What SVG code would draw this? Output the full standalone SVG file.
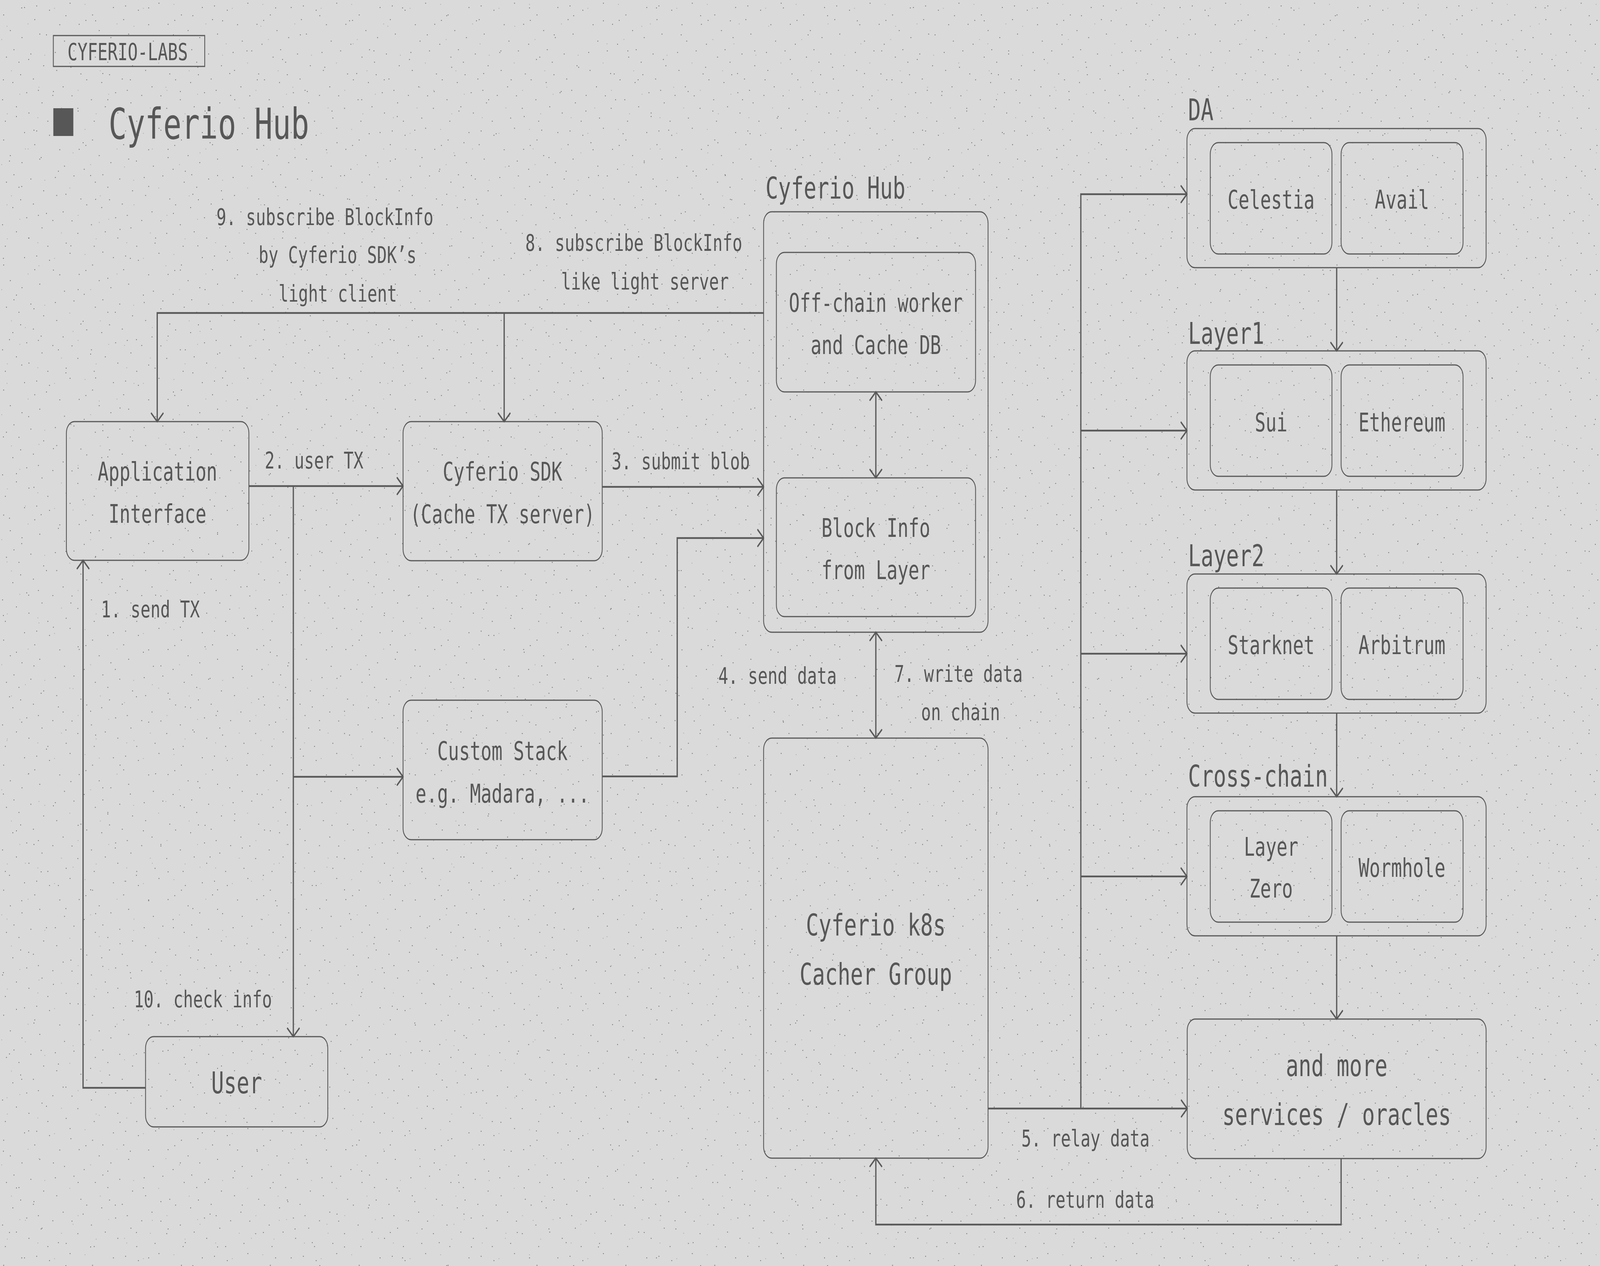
<svg xmlns="http://www.w3.org/2000/svg" width="5760" height="3240" viewBox="0 0 5760 3240" preserveAspectRatio="none" style="width:100%;height:100%;background:#dadada">
<defs>
<style>
.box{fill:none;stroke:#595959;stroke-width:3}
.con{fill:none;stroke:#595959;stroke-width:4.5}
.t{font-family:"DejaVu Sans Mono","Liberation Mono",monospace;fill:#575757}
.node{font-size:65px;text-anchor:middle}
.big{font-size:76px;text-anchor:middle}
.grp{font-size:76px}
.lbl{font-size:59px}
.d{fill:#5e5e5e}
.l{fill:#ababab}
</style>
<marker id="arr" viewBox="-26 -26 32 52" refX="0" refY="0" markerWidth="32" markerHeight="52" markerUnits="userSpaceOnUse" orient="auto-start-reverse">
<path d="M-21,-21 L0,0 L-21,21" fill="none" stroke="#595959" stroke-width="4.5" stroke-linecap="round" stroke-linejoin="round"/>
</marker>
<pattern id="noise" x="0" y="0" width="320" height="320" patternUnits="userSpaceOnUse">
<g class="d">
<rect x="12" y="37" width="2.4" height="2.4"/><rect x="45" y="210" width="2.4" height="2.4"/><rect x="78" y="95" width="2.4" height="2.4"/><rect x="103" y="288" width="2.4" height="2.4"/><rect x="131" y="14" width="2.4" height="2.4"/><rect x="156" y="167" width="2.4" height="2.4"/><rect x="189" y="243" width="2.4" height="2.4"/><rect x="214" y="62" width="2.4" height="2.4"/><rect x="237" y="301" width="2.4" height="2.4"/><rect x="265" y="129" width="2.4" height="2.4"/><rect x="290" y="188" width="2.4" height="2.4"/><rect x="308" y="51" width="2.4" height="2.4"/><rect x="22" y="145" width="2.4" height="2.4"/><rect x="58" y="272" width="2.4" height="2.4"/><rect x="87" y="18" width="2.4" height="2.4"/><rect x="119" y="201" width="2.4" height="2.4"/><rect x="142" y="86" width="2.4" height="2.4"/><rect x="171" y="309" width="2.4" height="2.4"/><rect x="198" y="133" width="2.4" height="2.4"/><rect x="226" y="221" width="2.4" height="2.4"/><rect x="251" y="7" width="2.4" height="2.4"/><rect x="279" y="276" width="2.4" height="2.4"/><rect x="302" y="112" width="2.4" height="2.4"/><rect x="8" y="254" width="2.4" height="2.4"/><rect x="36" y="77" width="2.4" height="2.4"/><rect x="67" y="158" width="2.4" height="2.4"/><rect x="95" y="236" width="2.4" height="2.4"/><rect x="124" y="49" width="2.4" height="2.4"/><rect x="150" y="262" width="2.4" height="2.4"/><rect x="177" y="25" width="2.4" height="2.4"/><rect x="203" y="179" width="2.4" height="2.4"/><rect x="231" y="104" width="2.4" height="2.4"/><rect x="258" y="244" width="2.4" height="2.4"/><rect x="284" y="61" width="2.4" height="2.4"/><rect x="311" y="203" width="2.4" height="2.4"/><rect x="18" y="309" width="2.4" height="2.4"/><rect x="49" y="126" width="2.4" height="2.4"/><rect x="73" y="190" width="2.4" height="2.4"/><rect x="110" y="137" width="2.4" height="2.4"/><rect x="137" y="230" width="2.4" height="2.4"/>
</g>
<g class="l">
<rect x="5" y="100" width="2.4" height="2.4"/><rect x="40" y="180" width="2.4" height="2.4"/><rect x="70" y="240" width="2.4" height="2.4"/><rect x="100" y="60" width="2.4" height="2.4"/><rect x="135" y="300" width="2.4" height="2.4"/><rect x="160" y="140" width="2.4" height="2.4"/><rect x="195" y="20" width="2.4" height="2.4"/><rect x="220" y="275" width="2.4" height="2.4"/><rect x="250" y="160" width="2.4" height="2.4"/><rect x="280" y="230" width="2.4" height="2.4"/><rect x="305" y="10" width="2.4" height="2.4"/><rect x="25" y="290" width="2.4" height="2.4"/>
</g>
</pattern>
<pattern id="noise2" x="0" y="0" width="457" height="457" patternUnits="userSpaceOnUse">
<g class="d">
<rect x="33" y="411" width="2.4" height="2.4"/><rect x="77" y="19" width="2.4" height="2.4"/><rect x="121" y="332" width="2.4" height="2.4"/><rect x="166" y="88" width="2.4" height="2.4"/><rect x="209" y="437" width="2.4" height="2.4"/><rect x="254" y="171" width="2.4" height="2.4"/><rect x="298" y="364" width="2.4" height="2.4"/><rect x="343" y="52" width="2.4" height="2.4"/><rect x="387" y="254" width="2.4" height="2.4"/><rect x="431" y="129" width="2.4" height="2.4"/><rect x="11" y="203" width="2.4" height="2.4"/><rect x="58" y="297" width="2.4" height="2.4"/><rect x="102" y="151" width="2.4" height="2.4"/><rect x="147" y="402" width="2.4" height="2.4"/><rect x="191" y="233" width="2.4" height="2.4"/><rect x="236" y="39" width="2.4" height="2.4"/><rect x="280" y="283" width="2.4" height="2.4"/><rect x="325" y="448" width="2.4" height="2.4"/><rect x="369" y="187" width="2.4" height="2.4"/><rect x="414" y="341" width="2.4" height="2.4"/>
</g>
<g class="l">
<rect x="24" y="66" width="2.4" height="2.4"/><rect x="139" y="222" width="2.4" height="2.4"/><rect x="262" y="390" width="2.4" height="2.4"/><rect x="356" y="111" width="2.4" height="2.4"/><rect x="447" y="426" width="2.4" height="2.4"/><rect x="90" y="380" width="2.4" height="2.4"/>
</g>
</pattern>
</defs>

<rect x="0" y="0" width="5760" height="3240" fill="#dadada"/>
<rect x="0" y="0" width="5760" height="3240" fill="url(#noise)"/>
<rect x="0" y="0" width="5760" height="3240" fill="url(#noise2)"/>

<g id="header">
<rect x="192" y="91" width="545" height="79" fill="none" stroke="#595959" stroke-width="3"/>
<text class="t" x="243" y="154" font-size="60">CYFERIO-LABS</text>
<rect x="192" y="277" width="72" height="71" fill="#575757"/>
<text class="t" x="391" y="355" font-size="109">Cyferio Hub</text>
</g>

<g id="connectors">
<path class="con" d="M2749,801 H566 V1079" marker-end="url(#arr)"/>
<path class="con" d="M1815,801 V1079" marker-end="url(#arr)"/>
<path class="con" d="M896,1244 H1451" marker-end="url(#arr)"/>
<path class="con" d="M1056,1244 V2653" marker-end="url(#arr)"/>
<path class="con" d="M1056,1988 H1451" marker-end="url(#arr)"/>
<path class="con" d="M2168,1246 H2749" marker-end="url(#arr)"/>
<path class="con" d="M2168,1987 H2438 V1377 H2749" marker-end="url(#arr)"/>
<path class="con" d="M3153,1003 V1223" marker-start="url(#arr)" marker-end="url(#arr)"/>
<path class="con" d="M3153,1618 V1889" marker-start="url(#arr)" marker-end="url(#arr)"/>
<path class="con" d="M524,2784 H299 V1434" marker-end="url(#arr)"/>
<path class="con" d="M3557,2837 H4274" marker-end="url(#arr)"/>
<path class="con" d="M3891,2837 V497 H4273" marker-end="url(#arr)"/>
<path class="con" d="M3891,1102 H4273" marker-end="url(#arr)"/>
<path class="con" d="M3891,1673 H4273" marker-end="url(#arr)"/>
<path class="con" d="M3891,2243 H4273" marker-end="url(#arr)"/>
<path class="con" d="M4812,685 V898" marker-end="url(#arr)"/>
<path class="con" d="M4812,1254 V1469" marker-end="url(#arr)"/>
<path class="con" d="M4812,1825 V2039" marker-end="url(#arr)"/>
<path class="con" d="M4812,2395 V2608" marker-end="url(#arr)"/>
<path class="con" d="M4828,2965 V3134 H3153 V2964" marker-end="url(#arr)"/>
</g>

<g id="labels" class="t lbl">
<text x="779" y="576">9. subscribe BlockInfo</text>
<text x="931" y="673">by Cyferio SDK’s</text>
<text x="1003" y="772">light client</text>
<text x="1891" y="642">8. subscribe BlockInfo</text>
<text x="2020" y="741">like light server</text>
<text x="953" y="1199">2. user TX</text>
<text x="2202" y="1201">3. submit blob</text>
<text x="364" y="1580">1. send TX</text>
<text x="2586" y="1750">4. send data</text>
<text x="3220" y="1745">7. write data</text>
<text x="3316" y="1843">on chain</text>
<text x="482" y="2578">10. check info</text>
<text x="3677" y="2934">5. relay data</text>
<text x="3658" y="3091">6. return data</text>
</g>

<g id="app-interface">
<rect class="box" x="239" y="1079" width="657" height="355" rx="29"/>
<text class="t node" x="567" y="1230">Application</text>
<text class="t node" x="567" y="1338">Interface</text>
</g>

<g id="cyferio-sdk">
<rect class="box" x="1451" y="1079" width="717" height="356" rx="29"/>
<text class="t node" x="1809" y="1230">Cyferio SDK</text>
<text class="t node" x="1809" y="1339">(Cache TX server)</text>
</g>

<g id="custom-stack">
<rect class="box" x="1451" y="1792" width="717" height="357" rx="29"/>
<text class="t node" x="1809" y="1945">Custom Stack</text>
<text class="t node" x="1809" y="2054">e.g. Madara, ...</text>
</g>

<g id="user">
<rect class="box" x="524" y="2653" width="656" height="231" rx="29"/>
<text class="t big" x="852" y="2798">User</text>
</g>

<g id="cyferio-hub">
<text class="t grp" x="2756" y="508">Cyferio Hub</text>
<rect class="box" x="2749" y="542" width="808" height="1076" rx="29"/>
</g>

<g id="offchain-worker">
<rect class="box" x="2795" y="646" width="717" height="357" rx="29"/>
<text class="t node" x="3153" y="798">Off-chain worker</text>
<text class="t node" x="3153" y="906">and Cache DB</text>
</g>

<g id="block-info">
<rect class="box" x="2795" y="1223" width="717" height="355" rx="29"/>
<text class="t node" x="3153" y="1374">Block Info</text>
<text class="t node" x="3153" y="1482">from Layer</text>
</g>

<g id="k8s-cacher">
<rect class="box" x="2749" y="1889" width="808" height="1075" rx="29"/>
<text class="t big" x="3153" y="2394">Cyferio k8s</text>
<text class="t big" x="3153" y="2520">Cacher Group</text>
</g>

<g id="da">
<text class="t grp" x="4277" y="308">DA</text>
<rect class="box" x="4273" y="329" width="1077" height="356" rx="29"/>
</g>
<g id="celestia">
<rect class="box" x="4357" y="365" width="438" height="285" rx="29"/>
<text class="t node" x="4576" y="534">Celestia</text>
</g>
<g id="avail">
<rect class="box" x="4828" y="365" width="439" height="285" rx="29"/>
<text class="t node" x="5047" y="534">Avail</text>
</g>

<g id="layer1">
<text class="t grp" x="4277" y="880">Layer1</text>
<rect class="box" x="4273" y="898" width="1077" height="356" rx="29"/>
</g>
<g id="sui">
<rect class="box" x="4357" y="934" width="438" height="285" rx="29"/>
<text class="t node" x="4576" y="1104">Sui</text>
</g>
<g id="ethereum">
<rect class="box" x="4828" y="934" width="439" height="285" rx="29"/>
<text class="t node" x="5047" y="1104">Ethereum</text>
</g>

<g id="layer2">
<text class="t grp" x="4277" y="1449">Layer2</text>
<rect class="box" x="4273" y="1469" width="1077" height="356" rx="29"/>
</g>
<g id="starknet">
<rect class="box" x="4357" y="1505" width="438" height="285" rx="29"/>
<text class="t node" x="4576" y="1674">Starknet</text>
</g>
<g id="arbitrum">
<rect class="box" x="4828" y="1505" width="439" height="285" rx="29"/>
<text class="t node" x="5047" y="1674">Arbitrum</text>
</g>

<g id="cross-chain">
<text class="t grp" x="4277" y="2013">Cross-chain</text>
<rect class="box" x="4273" y="2039" width="1077" height="356" rx="29"/>
</g>
<g id="layerzero">
<rect class="box" x="4357" y="2075" width="438" height="285" rx="29"/>
<text class="t node" x="4576" y="2190">Layer</text>
<text class="t node" x="4576" y="2297">Zero</text>
</g>
<g id="wormhole">
<rect class="box" x="4828" y="2075" width="439" height="285" rx="29"/>
<text class="t node" x="5047" y="2244">Wormhole</text>
</g>

<g id="and-more">
<rect class="box" x="4274" y="2608" width="1076" height="357" rx="29"/>
<text class="t big" x="4812" y="2754">and more</text>
<text class="t big" x="4812" y="2879">services / oracles</text>
</g>
</svg>
